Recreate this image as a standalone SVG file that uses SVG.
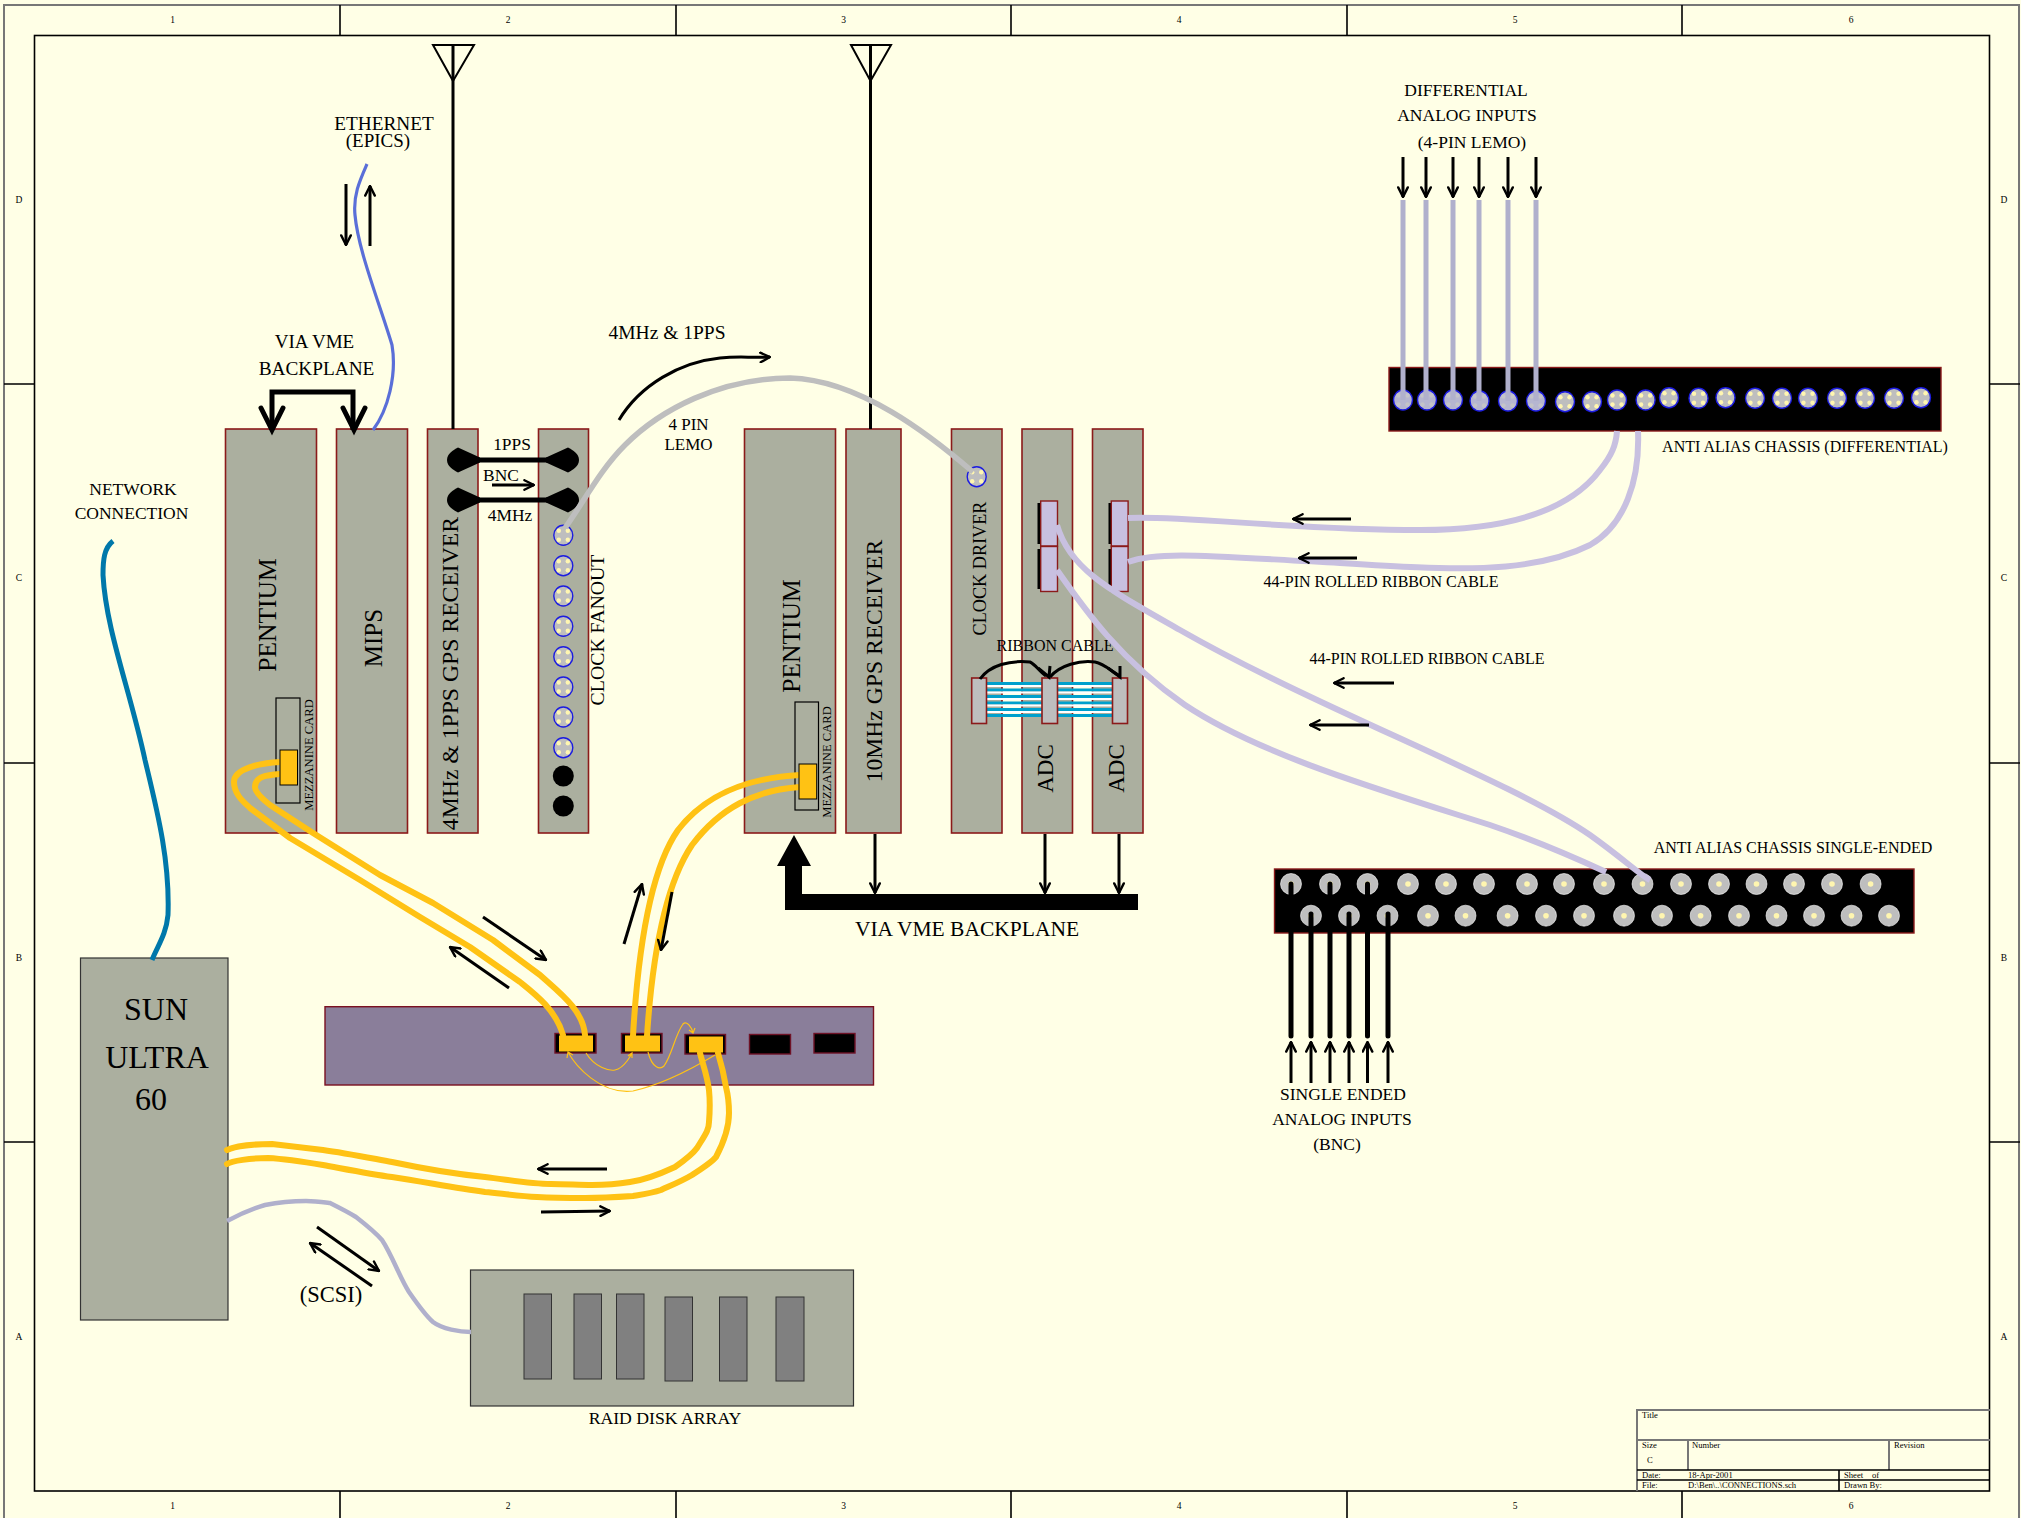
<svg xmlns="http://www.w3.org/2000/svg" xmlns:xlink="http://www.w3.org/1999/xlink" width="2021" height="1518" viewBox="0 0 2021 1518">
<style>
text{font-family:"Liberation Serif","Times New Roman",serif;fill:#000}
.m{text-anchor:middle}
.board{fill:#ABAF9F;stroke:#8B1A1A;stroke-width:1.6}
.frame{fill:none;stroke:#000;stroke-width:1.6}
.gframe{fill:none;stroke:#777;stroke-width:2}
.a{fill:none;stroke:#000;stroke-width:3;marker-end:url(#v)}
.y{fill:none;stroke:#FFC214;stroke-width:6;stroke-linecap:round;stroke-linejoin:round}
.yt{fill:none;stroke:#FFC214;stroke-width:1.2}
.l{fill:none;stroke:#C8C0E0;stroke-width:6}
.sock{fill:#000;stroke:#6E1226;stroke-width:1.4}
.yc{fill:#FFC214;stroke:#000;stroke-width:1}
.lav{fill:#C8C0E0;stroke:#8B1A1A;stroke-width:1.4}
.rb{fill:#BEBEBE;stroke:#8B1A1A;stroke-width:1.6}
.disk{fill:#808080;stroke:#333;stroke-width:1}
.t9{font-size:9.5px}
.t10{font-size:8.6px}
</style>
<defs>
<marker id="v" viewBox="0 0 10 10" refX="9" refY="5" markerWidth="4" markerHeight="4" orient="auto" markerUnits="strokeWidth"><path d="M1,1 L9,5 L1,9" fill="none" stroke="#000" stroke-width="2" stroke-linecap="round"/></marker>
<g id="c"><ellipse rx="9.5" ry="10" fill="#BEBEBE" stroke="#1C1CE0" stroke-width="1.4"/><circle cx="-4.5" cy="-4.5" r="2.2" fill="#FFF6B0"/><circle cx="4.5" cy="-4.5" r="2.2" fill="#FFF6B0"/><circle cx="-4.5" cy="4.5" r="2.2" fill="#FFF6B0"/><circle cx="4.5" cy="4.5" r="2.2" fill="#FFF6B0"/></g>
<g id="cl"><ellipse rx="9.5" ry="10" fill="#B6B6D0" stroke="#1C1CE0" stroke-width="1.4"/><circle cx="-4.5" cy="-4.5" r="2.2" fill="#C4C4C8"/><circle cx="4.5" cy="-4.5" r="2.2" fill="#C4C4C8"/><circle cx="-4.5" cy="4.5" r="2.2" fill="#C4C4C8"/><circle cx="4.5" cy="4.5" r="2.2" fill="#C4C4C8"/></g>
<g id="s"><circle r="10.5" fill="#BEBEBE" stroke="#fff" stroke-width="0.6"/><circle r="2.8" fill="#FFF6B0"/></g>
<path id="bnc" d="M0,0 C0,-6 6,-10 11,-12.5 L33,-2.5 L33,2.5 L11,12.5 C6,10 0,6 0,0Z" fill="#000"/>
</defs>

<rect width="2021" height="1518" fill="#FFFFE6"/>

<g id="sheet-frame">
<path class="gframe" d="M4,1518 V5 H2020"/><path class="gframe" d="M2019,5 V1518"/>
<rect class="frame" x="34.5" y="35.5" width="1955" height="1455.5"/>
<path class="frame" d="M340,5 V35 M676,5 V35 M1011,5 V35 M1347,5 V35 M1682,5 V35 M340,1491 V1518 M676,1491 V1518 M1011,1491 V1518 M1347,1491 V1518 M1682,1491 V1518 M4,384 H34 M4,763 H34 M4,1142 H34 M1990,384 H2020 M1990,763 H2020 M1990,1142 H2020"/>
<g class="t9">
<text class="m" x="172.5" y="23">1</text><text class="m" x="508" y="23">2</text><text class="m" x="843.5" y="23">3</text><text class="m" x="1179" y="23">4</text><text class="m" x="1515" y="23">5</text><text class="m" x="1851" y="23">6</text>
<text class="m" x="172.5" y="1509">1</text><text class="m" x="508" y="1509">2</text><text class="m" x="843.5" y="1509">3</text><text class="m" x="1179" y="1509">4</text><text class="m" x="1515" y="1509">5</text><text class="m" x="1851" y="1509">6</text>
<text class="m" x="19" y="203">D</text><text class="m" x="19" y="581">C</text><text class="m" x="19" y="961">B</text><text class="m" x="19" y="1340">A</text>
<text class="m" x="2004" y="203">D</text><text class="m" x="2004" y="581">C</text><text class="m" x="2004" y="961">B</text><text class="m" x="2004" y="1340">A</text>
</g>
</g>

<g id="title-block">
<path class="gframe" d="M1637,1491 V1410 H1990 M1637,1440 H1990 M1688,1440 V1470 M1889,1440 V1470"/>
<path class="frame" d="M1637,1470 H1990 M1637,1480 H1990 M1839,1470 V1491"/>
<g class="t10">
<text x="1642" y="1418">Title</text><text x="1642" y="1448">Size</text><text x="1692" y="1448">Number</text><text x="1894" y="1448">Revision</text>
<text x="1647" y="1463">C</text><text x="1642" y="1478">Date:</text><text x="1688" y="1478">18-Apr-2001</text><text x="1844" y="1478">Sheet</text><text x="1872" y="1478">of</text>
<text x="1642" y="1488">File:</text><text x="1688" y="1488">D:\Ben\..\CONNECTIONS.sch</text><text x="1844" y="1488">Drawn By:</text>
</g>
</g>

<g id="pentium-1"><rect class="board" x="225.5" y="429" width="91" height="404"/>
<rect x="276" y="698" width="24" height="105" fill="none" stroke="#000" stroke-width="1.2"/>
<text class="m" font-size="25.5" transform="translate(276,615) rotate(-90)">PENTIUM</text>
<text class="m" font-size="12.6" transform="translate(312.5,755) rotate(-90)">MEZZANINE CARD</text></g>
<g id="mips"><rect class="board" x="336.5" y="429" width="71" height="404"/><text class="m" font-size="25" transform="translate(382,638) rotate(-90)">MIPS</text></g>
<g id="gps-1pps"><rect class="board" x="427.5" y="429" width="50.5" height="404"/><text class="m" font-size="23.7" transform="translate(457.5,673.5) rotate(-90)">4MHz &amp; 1PPS GPS RECEIVER</text></g>
<g id="clock-fanout"><rect class="board" x="538.5" y="429" width="50" height="404"/>
<use xlink:href="#c" href="#c" x="563.3" y="535.3"/><use xlink:href="#c" href="#c" x="563.3" y="565.7"/><use xlink:href="#c" href="#c" x="563.3" y="596"/><use xlink:href="#c" href="#c" x="563.3" y="626.3"/><use xlink:href="#c" href="#c" x="563.3" y="656.7"/><use xlink:href="#c" href="#c" x="563.3" y="687"/><use xlink:href="#c" href="#c" x="563.3" y="717"/><use xlink:href="#c" href="#c" x="563.3" y="747.7"/>
<circle cx="563.3" cy="776" r="10.5"/><circle cx="563.3" cy="806" r="10.5"/>
<text class="m" font-size="19.8" transform="translate(604,630) rotate(-90)">CLOCK FANOUT</text></g>

<g id="pentium-2"><rect class="board" x="744.5" y="429" width="91" height="404"/>
<rect x="795" y="702" width="23.5" height="108" fill="none" stroke="#000" stroke-width="1.2"/>
<text class="m" font-size="25.5" transform="translate(800,636) rotate(-90)">PENTIUM</text>
<text class="m" font-size="12.6" transform="translate(830.5,762) rotate(-90)">MEZZANINE CARD</text></g>
<g id="gps-10mhz"><rect class="board" x="846" y="429" width="55" height="404"/><text class="m" font-size="23.6" transform="translate(882,661) rotate(-90)">10MHz GPS RECEIVER</text></g>
<g id="clock-driver"><rect class="board" x="951.5" y="429" width="50.5" height="404"/><use xlink:href="#c" href="#c" x="976.7" y="476.7"/><text class="m" font-size="18.2" transform="translate(985.5,568.5) rotate(-90)">CLOCK DRIVER</text></g>
<g id="adc-1"><rect class="board" x="1022" y="429" width="50.5" height="404"/><text class="m" font-size="23" transform="translate(1053,768.5) rotate(-90)">ADC</text></g>
<g id="adc-2"><rect class="board" x="1092.5" y="429" width="50.5" height="404"/><text class="m" font-size="23" transform="translate(1124,768.5) rotate(-90)">ADC</text></g>

<g id="adc-connectors">
<rect x="1037.5" y="503" width="4" height="41"/><rect x="1037.5" y="549" width="4" height="40"/><rect x="1108.5" y="503" width="4" height="41"/><rect x="1108.5" y="549" width="4" height="40"/>
<rect class="lav" x="1040.7" y="501" width="16.8" height="45"/><rect class="lav" x="1040.7" y="546.5" width="16.8" height="45"/><rect class="lav" x="1111.3" y="501" width="16.8" height="45"/><rect class="lav" x="1111.3" y="546.5" width="16.8" height="45"/>
</g>

<g id="ribbon-cable">
<g fill="#00A0CC"><rect x="986" y="682" width="126" height="3"/><rect x="986" y="688.5" width="126" height="3"/><rect x="986" y="695" width="126" height="3"/><rect x="986" y="701.5" width="126" height="3"/><rect x="986" y="708" width="126" height="3"/><rect x="986" y="714" width="126" height="3"/></g>
<g fill="#fff"><rect x="986" y="685" width="126" height="2"/><rect x="986" y="691.5" width="126" height="2"/><rect x="986" y="698" width="126" height="2"/><rect x="986" y="704.5" width="126" height="2"/><rect x="986" y="711" width="126" height="2"/></g>
<rect class="rb" x="971.7" y="678" width="14.8" height="45.5"/><rect class="rb" x="1042" y="678" width="15.5" height="45.5"/><rect class="rb" x="1112.5" y="678" width="15" height="45.5"/>
<text class="m" font-size="16" x="1055" y="651">RIBBON CABLE</text>
</g>

<g id="antenna-chassis-differential"><rect x="1389" y="367.5" width="552" height="63.5" fill="#000" stroke="#8B1A1A" stroke-width="1.4"/>
<use xlink:href="#cl" href="#cl" x="1403" y="400"/><use xlink:href="#cl" href="#cl" x="1427" y="400"/><use xlink:href="#cl" href="#cl" x="1453" y="400"/><use xlink:href="#cl" href="#cl" x="1479.5" y="401"/><use xlink:href="#cl" href="#cl" x="1508" y="401"/><use xlink:href="#cl" href="#cl" x="1536" y="401"/>
<use xlink:href="#c" href="#c" x="1565" y="401.7"/><use xlink:href="#c" href="#c" x="1592" y="401.7"/><use xlink:href="#c" href="#c" x="1617" y="400"/><use xlink:href="#c" href="#c" x="1645.6" y="400"/><use xlink:href="#c" href="#c" x="1669" y="397.7"/><use xlink:href="#c" href="#c" x="1698.5" y="398.3"/><use xlink:href="#c" href="#c" x="1725.5" y="397.7"/><use xlink:href="#c" href="#c" x="1755" y="398.3"/><use xlink:href="#c" href="#c" x="1782" y="398.3"/><use xlink:href="#c" href="#c" x="1808" y="398.3"/><use xlink:href="#c" href="#c" x="1837" y="398.3"/><use xlink:href="#c" href="#c" x="1865" y="398.3"/><use xlink:href="#c" href="#c" x="1894" y="398.3"/><use xlink:href="#c" href="#c" x="1921" y="397.7"/>
<text class="m" font-size="16" x="1805" y="452">ANTI ALIAS CHASSIS (DIFFERENTIAL)</text></g>

<g id="antenna-chassis-single"><rect x="1274.5" y="869" width="639.5" height="64" fill="#000" stroke="#8B1A1A" stroke-width="1.4"/>
<use xlink:href="#s" href="#s" x="1291" y="884"/><use xlink:href="#s" href="#s" x="1330" y="884"/><use xlink:href="#s" href="#s" x="1367.5" y="884"/><use xlink:href="#s" href="#s" x="1408" y="884"/><use xlink:href="#s" href="#s" x="1446" y="884"/><use xlink:href="#s" href="#s" x="1484" y="884"/><use xlink:href="#s" href="#s" x="1527" y="884"/><use xlink:href="#s" href="#s" x="1564" y="884"/><use xlink:href="#s" href="#s" x="1604" y="884"/><use xlink:href="#s" href="#s" x="1642.5" y="884"/><use xlink:href="#s" href="#s" x="1681" y="884"/><use xlink:href="#s" href="#s" x="1719" y="884"/><use xlink:href="#s" href="#s" x="1756.5" y="884"/><use xlink:href="#s" href="#s" x="1794" y="884"/><use xlink:href="#s" href="#s" x="1832" y="884"/><use xlink:href="#s" href="#s" x="1870.6" y="884"/>
<use xlink:href="#s" href="#s" x="1311" y="915.7"/><use xlink:href="#s" href="#s" x="1349" y="915.7"/><use xlink:href="#s" href="#s" x="1387.5" y="915.7"/><use xlink:href="#s" href="#s" x="1428" y="915.7"/><use xlink:href="#s" href="#s" x="1465.5" y="915.7"/><use xlink:href="#s" href="#s" x="1507.6" y="915.7"/><use xlink:href="#s" href="#s" x="1546" y="915.7"/><use xlink:href="#s" href="#s" x="1584" y="915.7"/><use xlink:href="#s" href="#s" x="1624" y="915.7"/><use xlink:href="#s" href="#s" x="1662" y="915.7"/><use xlink:href="#s" href="#s" x="1700.6" y="915.7"/><use xlink:href="#s" href="#s" x="1739" y="915.7"/><use xlink:href="#s" href="#s" x="1776.5" y="915.7"/><use xlink:href="#s" href="#s" x="1814" y="915.7"/><use xlink:href="#s" href="#s" x="1851.5" y="915.7"/><use xlink:href="#s" href="#s" x="1889" y="915.7"/>
<text class="m" font-size="16" x="1793" y="853">ANTI ALIAS CHASSIS SINGLE-ENDED</text></g>

<g id="vme-rack"><rect x="325" y="1006.7" width="548.5" height="78.3" fill="#8A7E9A" stroke="#7A1020" stroke-width="1.4"/>
<rect class="sock" x="555" y="1033.5" width="41" height="19.5"/><rect class="sock" x="621.5" y="1033.5" width="40.5" height="19.5"/><rect class="sock" x="685" y="1034.5" width="40.5" height="19.5"/><rect class="sock" x="749.5" y="1034.5" width="41" height="19.5"/><rect class="sock" x="814" y="1033.5" width="41" height="19.5"/>
<rect x="559" y="1035.5" width="34" height="16" fill="#FFC214"/><rect x="625" y="1035.5" width="35" height="16" fill="#FFC214"/><rect x="689" y="1036.5" width="34" height="16" fill="#FFC214"/></g>

<g id="sun-ultra-60"><rect x="80.5" y="958" width="147.5" height="362" fill="#ABAF9F" stroke="#333" stroke-width="1.2"/>
<text class="m" font-size="32" x="156" y="1020">SUN</text><text class="m" font-size="32" x="157" y="1068">ULTRA</text><text class="m" font-size="32" x="151" y="1110">60</text></g>

<g id="raid-disk-array"><rect x="470.5" y="1270" width="383" height="136" fill="#ABAF9F" stroke="#333" stroke-width="1.2"/>
<rect class="disk" x="524" y="1294" width="27.5" height="85"/><rect class="disk" x="574" y="1294" width="27.5" height="85"/><rect class="disk" x="616.5" y="1294" width="27.5" height="85"/><rect class="disk" x="665" y="1297" width="27.5" height="84"/><rect class="disk" x="719.5" y="1297" width="27.5" height="84"/><rect class="disk" x="776" y="1297" width="28" height="84"/>
<text class="m" font-size="17.7" x="665" y="1424">RAID DISK ARRAY</text></g>

<g id="labels">
<text class="m" font-size="19.3" x="384" y="130">ETHERNET</text><text class="m" font-size="19" x="378" y="147">(EPICS)</text>
<text class="m" font-size="19" x="314.5" y="348">VIA VME</text><text class="m" font-size="19.3" x="316.5" y="375">BACKPLANE</text>
<text class="m" font-size="17.5" x="133" y="495">NETWORK</text><text class="m" font-size="17.5" x="131.5" y="519">CONNECTION</text>
<text class="m" font-size="19.5" x="667" y="339">4MHz &amp; 1PPS</text><text class="m" font-size="17" x="688.5" y="430">4 PIN</text><text class="m" font-size="17" x="688.5" y="450">LEMO</text>
<text class="m" font-size="17.4" x="512" y="450">1PPS</text><text class="m" font-size="17.4" x="501" y="481">BNC</text><text class="m" font-size="17.4" x="510" y="521">4MHz</text>
<text class="m" font-size="16" x="1381" y="587">44-PIN ROLLED RIBBON CABLE</text><text class="m" font-size="16" x="1427" y="664">44-PIN ROLLED RIBBON CABLE</text>
<text class="m" font-size="17.5" x="1466" y="96">DIFFERENTIAL</text><text class="m" font-size="17.5" x="1467" y="121">ANALOG INPUTS</text><text class="m" font-size="17.5" x="1472" y="148">(4-PIN LEMO)</text>
<text class="m" font-size="17.5" x="1343" y="1100">SINGLE ENDED</text><text class="m" font-size="17.5" x="1342" y="1125">ANALOG INPUTS</text><text class="m" font-size="17.5" x="1337" y="1150">(BNC)</text>
<text class="m" font-size="21.5" x="967" y="936">VIA VME BACKPLANE</text><text class="m" font-size="22.5" x="331" y="1302">(SCSI)</text>
</g>

<g id="connectors">
<path d="M453,45 V429 M870.5,45 V429" fill="none" stroke="#000" stroke-width="3"/>
<path d="M433,45 H474 L453,81Z M851,45 H891 L870.5,81Z" fill="none" stroke="#000" stroke-width="2"/>

<path d="M478,460 H547 M478,500 H547" stroke="#000" stroke-width="5" fill="none"/>
<use xlink:href="#bnc" href="#bnc" x="447" y="460"/><use xlink:href="#bnc" href="#bnc" x="447" y="500"/>
<use xlink:href="#bnc" href="#bnc" transform="translate(579,460) scale(-1,1)"/><use xlink:href="#bnc" href="#bnc" transform="translate(579,500) scale(-1,1)"/>
<path class="a" d="M492,485 H534"/>

<path d="M272,430 V392 H353 V430" fill="none" stroke="#000" stroke-width="5"/>
<path d="M261,408 L272,430 L283,408 M343,408 L354,430 L365,408" fill="none" stroke="#000" stroke-width="5" stroke-linecap="round"/>

<path d="M367,164 C360,180 353,195 355,215 C358,250 380,305 392,345 C397,375 388,410 373,430" fill="none" stroke="#5A6FD8" stroke-width="3.2"/>
<path class="a" d="M346,184 V245"/><path class="a" d="M370,246 V186"/>
<path d="M113,541 C104,548 103,560 103,575 C106,630 130,690 145,760 C157,810 170,860 168,915 C166,935 158,945 152,960" fill="none" stroke="#0078AA" stroke-width="5"/>

<path d="M565,528 C585,500 600,470 625,445 C660,410 720,378 790,378 C860,380 930,435 973,472" fill="none" stroke="#BEBEBE" stroke-width="5.5"/>
<path class="a" d="M619,420 C640,385 680,362 720,358 C740,356 750,358 770,357"/>

<path d="M980,679 C990,665 1010,660 1030,662 C1035,664 1040,672 1046,676 M1050,677 C1060,665 1080,660 1095,662 C1105,664 1112,672 1120,676" fill="none" stroke="#000" stroke-width="3"/>
<path d="M1038,668 L1049,677 L1050,666 M1108,668 L1120,677 L1120,666" fill="none" stroke="#000" stroke-width="3"/>

<path class="l" d="M1128,518 C1180,515 1290,530 1420,530 C1510,530 1570,510 1600,470 C1612,455 1616,445 1617,431"/>
<path class="l" d="M1128,562 C1160,550 1220,557 1340,563 C1450,570 1530,575 1590,545 C1625,525 1640,480 1638,431"/>
<path class="l" d="M1057,525 C1070,570 1110,590 1180,630 C1320,710 1510,780 1590,835 C1625,860 1640,875 1650,880"/>
<path class="l" d="M1057,570 C1085,610 1120,660 1185,705 C1260,755 1380,790 1490,825 C1540,842 1580,860 1606,872"/>
<path class="a" d="M1351,519 H1293"/><path class="a" d="M1357,558 H1299"/><path class="a" d="M1394,683 H1334"/><path class="a" d="M1369,725 H1310"/>

<g stroke="#B0B0CC" stroke-width="5" fill="none"><path d="M1403,200 V400 M1426,200 V400 M1453,200 V400 M1479,200 V401 M1508,200 V401 M1536,200 V401"/></g>
<path class="a" d="M1403,157 V197"/><path class="a" d="M1426,157 V197"/><path class="a" d="M1453,157 V197"/><path class="a" d="M1479,157 V197"/><path class="a" d="M1508,157 V197"/><path class="a" d="M1536,157 V197"/>

<path d="M1291,1036 V884 M1311,1036 V914 M1330,1036 V884 M1349,1036 V914 M1367.5,1036 V884 M1388,1036 V914" fill="none" stroke="#000" stroke-width="5" stroke-linecap="round"/>
<path class="a" d="M1291,1083 V1042"/><path class="a" d="M1311,1083 V1042"/><path class="a" d="M1330,1083 V1042"/><path class="a" d="M1349,1083 V1042"/><path class="a" d="M1367.5,1083 V1042"/><path class="a" d="M1388,1083 V1042"/>

<path d="M785,902 H1138" fill="none" stroke="#000" stroke-width="16"/>
<path d="M785,902 V866 H777 L794,835 L811,866 H802 V894Z" fill="#000"/>
<path class="a" d="M875,834 V893"/><path class="a" d="M1045,834 V893"/><path class="a" d="M1119,834 V893"/>

<path class="y" d="M280,762 C262,763 234,768 234,782 C234,795 245,803 250,808 L290,838 L360,880 L420,917 L470,947 L520,982 C535,994 556,1010 563,1035"/>
<path class="y" d="M280,774 C268,775 255,776 255,787 C255,793 265,801 270,805 L313,833 L380,875 L433,903 L493,940 L540,975 C560,993 583,1010 585,1035"/>
<path class="y" d="M800,775 C745,778 705,795 678,830 C650,870 638,950 633,1036"/>
<path class="y" d="M800,787 C755,790 720,808 692,845 C665,885 652,960 647,1036"/>
<path class="y" d="M227,1150 C235,1146 255,1144 272,1144 C290,1146 305,1148 323,1150 C345,1153 370,1158 392,1162 C425,1169 455,1174 485,1177 C510,1180 530,1184 551,1184 C565,1184 580,1185 592,1185 C605,1185 618,1184 630,1182 C645,1180 660,1174 675,1167 C685,1160 692,1155 697,1148 C705,1135 709,1130 709,1122 C710,1110 710,1100 709,1090 C707,1075 703,1065 700,1053"/>
<path class="y" d="M227,1164 C232,1161 250,1158 268,1158 C285,1159 305,1162 323,1165 C345,1169 370,1174 392,1177 C425,1182 455,1188 485,1192 C505,1194 520,1196 537,1197 C555,1198 570,1198 585,1198 C600,1198 618,1197 633,1196 C645,1194 652,1193 661,1190 C672,1185 682,1181 692,1175 C702,1168 710,1164 716,1157 C725,1140 729,1125 729,1113 C729,1105 728,1095 726,1087 C724,1075 721,1063 718,1053"/>
<rect class="yc" x="280" y="750" width="17.5" height="35"/><rect class="yc" x="799" y="764" width="17.7" height="35"/>
<path class="yt" d="M586,1053 C595,1068 610,1071 615,1070 C625,1068 632,1053 632,1053 M628,1056 L632,1053 L632,1058"/>
<path class="yt" d="M648,1052 C652,1068 660,1070 664,1066 C672,1055 675,1035 683,1024 C687,1020 692,1028 693,1033 M689,1030 L693,1033 L695,1028"/>
<path class="yt" d="M715,1055 C690,1070 660,1085 633,1091 C600,1095 575,1065 568,1052 M567,1058 L568,1052 L573,1055"/>

<path class="a" d="M483,917 L546,960"/><path class="a" d="M509,988 L450,947"/><path class="a" d="M624,944 L642,884"/><path class="a" d="M672,892 L661,950"/><path class="a" d="M607,1169 H538"/><path class="a" d="M541,1212 L610,1211"/>

<path d="M227,1221 C240,1214 255,1208 265,1205 C280,1202 295,1201 306,1201 C315,1201 322,1202 330,1203 C340,1208 348,1212 356,1217 C365,1224 375,1232 382,1240 C392,1255 400,1278 409,1292 C418,1305 425,1315 433,1322 C442,1329 460,1332 471,1332" fill="none" stroke="#B0B0CC" stroke-width="4.5"/>
<path class="a" d="M317,1227 L379,1271"/><path class="a" d="M372,1286 L310,1243"/>
</g>
</svg>
